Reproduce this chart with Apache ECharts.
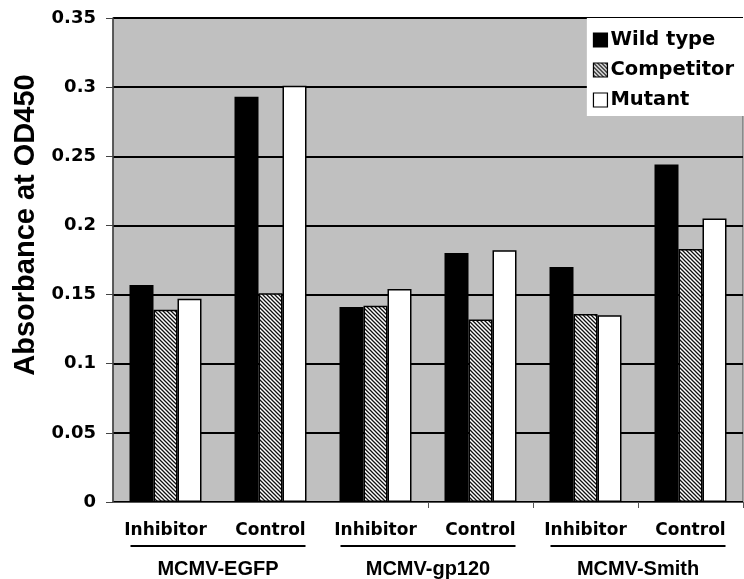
<!DOCTYPE html>
<html><head><meta charset="utf-8">
<script src="https://cdn.jsdelivr.net/npm/echarts@6/dist/echarts.min.js"></script>
<style>html,body{margin:0;padding:0;background:#fff}#c{width:744px;height:579px}</style>
</head><body><div id="c"></div>
<script>
const categories = ['Inhibitor','Control','Inhibitor','Control','Inhibitor','Control'];
const groups = ['MCMV-EGFP','MCMV-gp120','MCMV-Smith'];
const seriesNames = ['Wild type','Competitor','Mutant'];
const wildType = [0.157,0.293,0.141,0.180,0.170,0.244];
const competitor = [0.139,0.151,0.142,0.132,0.136,0.183];
const mutant = [0.147,0.301,0.154,0.182,0.135,0.205];
const yMin = 0, yMax = 0.35, yStep = 0.05;

function hatch(){
  const c = document.createElement('canvas'); c.width = 4; c.height = 4;
  const g = c.getContext('2d');
  g.fillStyle = '#fff'; g.fillRect(0,0,4,4);
  g.strokeStyle = '#111'; g.lineWidth = 1.3;
  g.beginPath();
  g.moveTo(-1,-1); g.lineTo(5,5);
  g.moveTo(-1,3); g.lineTo(1,5);
  g.moveTo(3,-1); g.lineTo(5,1);
  g.stroke();
  return c;
}
const fills = ['#000', {image: hatch(), repeat: 'repeat'}, '#fff'];
const values = [wildType, competitor, mutant];

const chart = echarts.init(document.getElementById('c'), null, {renderer:'canvas'});
const labelFont = 'DejaVu Sans';
chart.setOption({
  animation: false,
  grid: {left:113, right:1, top:18, bottom:71, show:true, backgroundColor:'#c0c0c0', borderColor:'#555', borderWidth:1},
  legend: {
    orient:'vertical', right:0, top:18, backgroundColor:'#fff',
    padding:[12,10,6,6], itemWidth:14, itemHeight:14, itemGap:10,
    icon:'rect',
    textStyle:{fontFamily:labelFont, fontWeight:'bold', fontSize:19.5, color:'#000', padding:[0,0,0,-2]},
    itemStyle:{borderColor:'#000', borderWidth:1.2},
    data: seriesNames
  },
  xAxis: [{
    type:'category', data:categories, position:'bottom',
    axisLine:{lineStyle:{color:'#555', width:1.2}},
    axisTick:{show:true, length:6, lineStyle:{color:'#555'}, interval:function(i){return i>=3;}},
    axisLabel:{fontFamily:labelFont, fontWeight:'bold', fontSize:17, color:'#000', margin:20, interval:0}
  },{
    type:'category', data:groups, position:'bottom', gridIndex:0,
    axisLine:{show:false}, axisTick:{show:false}, splitLine:{show:false},
    axisLabel:{
      margin:43, interval:0,
      formatter:function(v){return '{l| }\n{n|'+v+'}';},
      rich:{
        l:{width:175, height:2, lineHeight:2, fontSize:1, backgroundColor:'#000'},
        n:{fontFamily:'Liberation Sans, Arial', fontWeight:'bold', fontSize:20, color:'#000', lineHeight:44}
      }
    }
  }],
  yAxis: {
    type:'value', min:yMin, max:yMax, interval:yStep,
    name:'Absorbance at OD450', nameLocation:'middle', nameGap:71,
    nameTextStyle:{fontFamily:'Liberation Sans, Arial', fontWeight:'bold', fontSize:29, color:'#000', padding:[0,0,0,70]},
    axisLine:{show:true, lineStyle:{color:'#444', width:1.5}},
    axisTick:{show:true, length:7, lineStyle:{color:'#444'}},
    splitLine:{lineStyle:{color:'#000', width:2}},
    axisLabel:{fontFamily:labelFont, fontWeight:'bold', fontSize:18, color:'#000', margin:17}
  },
  series: seriesNames.map(function(n,i){
    return {
      name:n, type:'bar', xAxisIndex:0, data:values[i], barWidth:24, barGap:'0%',
      itemStyle:{color:fills[i], borderColor:'#000', borderWidth:1.5}
    };
  })
});
</script></body></html>
